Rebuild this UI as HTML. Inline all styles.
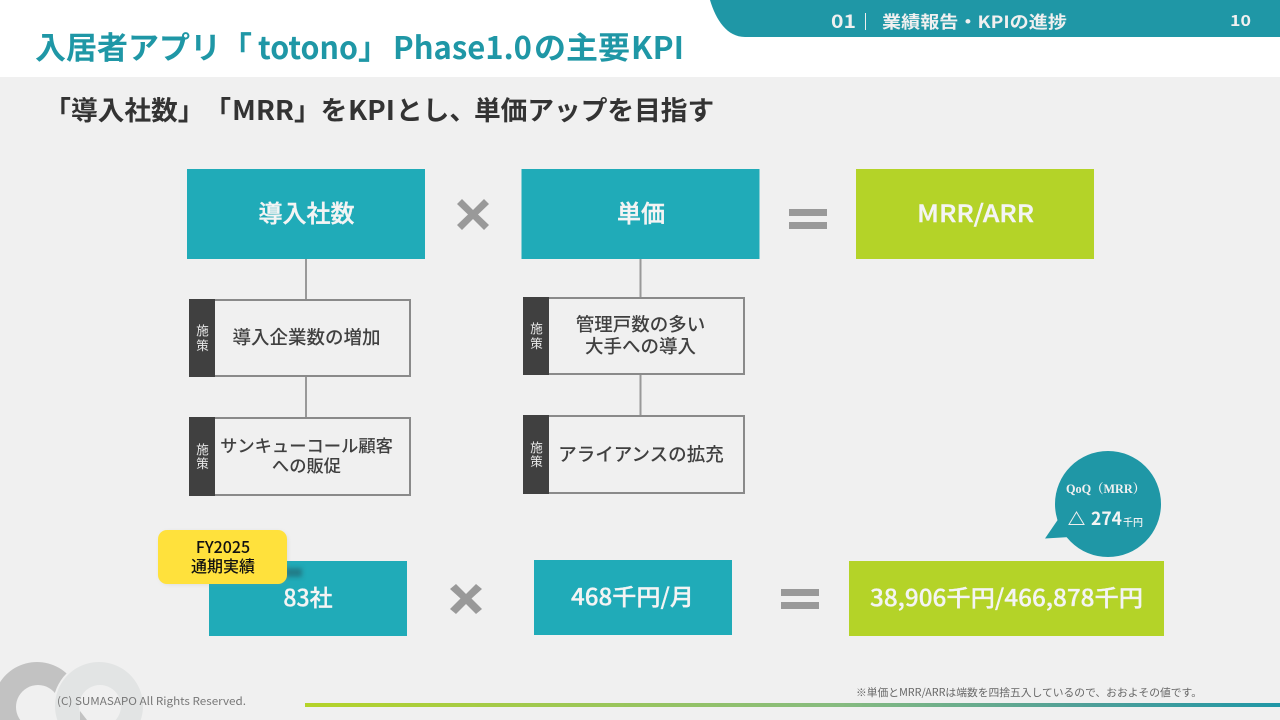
<!DOCTYPE html>
<html lang="ja"><head><meta charset="utf-8"><style>
html,body{margin:0;padding:0;background:#f0f0f0}
svg{display:block}
text{font-family:"Noto Sans CJK JP",sans-serif;text-spacing-trim:space-all}
</style></head><body>
<svg width="1280" height="720" viewBox="0 0 1280 720" xmlns="http://www.w3.org/2000/svg">
<defs>
<linearGradient id="g" x1="0" x2="1" y1="0" y2="0"><stop offset="0" stop-color="#b4d328"/><stop offset="0.55" stop-color="#86bb80"/><stop offset="0.8" stop-color="#4f9f98"/><stop offset="1" stop-color="#1f97a6"/></linearGradient>
<filter id="sh" x="-50%" y="-50%" width="200%" height="200%"><feGaussianBlur stdDeviation="2.5"/></filter>
</defs>
<rect width="1280" height="720" fill="#f0f0f0"/>
<rect width="1280" height="77" fill="#fff"/>
<path d="M710 0C716 20 727 37 745 37H1280V0Z" fill="#1f97a6"/>

<g font-size="31" font-weight="700" fill="#1f97a6">
<text x="35" y="59">入居者アプリ「</text>
<text x="258" y="59" textLength="100" lengthAdjust="spacingAndGlyphs">totono</text>
<text x="358" y="59">」</text>
<text x="393" y="59" textLength="139" lengthAdjust="spacingAndGlyphs">Phase1.0</text>
<text x="534" y="59" textLength="96" lengthAdjust="spacingAndGlyphs">の主要</text>
<text x="631" y="59" textLength="53" lengthAdjust="spacingAndGlyphs">KPI</text>
</g>

<text x="831" y="28" font-size="18" font-weight="700" fill="#f0f0f0" textLength="25" lengthAdjust="spacingAndGlyphs">01</text>
<rect x="865" y="13" width="1" height="17" fill="#eee"/>
<text x="882" y="28" font-size="17" font-weight="700" fill="#f0f0f0" textLength="185" lengthAdjust="spacingAndGlyphs">業績報告・KPIの進捗</text>
<text x="1230" y="26" font-size="15" font-weight="700" fill="#f0f0f0" textLength="21" lengthAdjust="spacingAndGlyphs">10</text>

<g font-size="26.700" font-weight="700" fill="#333">
<text x="44.300" y="120">「導入社数」「</text>
<text x="232" y="120" textLength="62" lengthAdjust="spacingAndGlyphs">MRR</text>
<text x="294" y="120">」を</text>
<text x="348" y="120" textLength="47" lengthAdjust="spacingAndGlyphs">KPI</text>
<text x="396" y="120">とし、</text>
<text x="474" y="120">単価アップを目指す</text>
</g>

<rect x="187" y="169" width="238" height="90" fill="#20abb8"/>
<rect x="521.500" y="169" width="238" height="90" fill="#20abb8"/>
<rect x="856" y="169" width="238" height="90" fill="#b4d328"/>
<g font-size="24" font-weight="500" fill="#f4f4f4" stroke="#f4f4f4" stroke-width="0.400" text-anchor="middle">
<text x="306.500" y="222">導入社数</text>
<text x="641" y="222">単価</text>
<text x="975.500" y="222" textLength="117" lengthAdjust="spacingAndGlyphs">MRR/ARR</text>
</g>

<g fill="#999">
<path d="M462 199L473 210L484 199L489 204L478 214.500L489 225L484 230L473 219L462 230L457 225L468 214.500L457 204Z"/>
<rect x="789" y="209" width="38" height="7"/><rect x="789" y="222" width="38" height="7"/>
<path d="M456 584L466 594L476 584L482 589L471.500 598.500L482 609L476 614L466 604L456 614L450 609L460.500 598.500L450 589Z"/>
<rect x="781" y="589" width="38" height="7"/><rect x="781" y="602" width="38" height="7"/>
<rect x="305" y="259" width="2" height="41"/><rect x="305" y="377" width="2" height="41"/>
<rect x="639.500" y="259" width="2" height="39"/><rect x="639.500" y="375" width="2" height="41"/>
</g>

<g fill="none" stroke="#8a8a8a" stroke-width="2">
<rect x="190" y="300" width="220" height="76"/><rect x="190" y="418" width="220" height="77"/>
<rect x="524" y="298" width="220" height="76"/><rect x="524" y="416" width="220" height="77"/>
</g>
<g fill="#404040">
<rect x="189" y="299" width="26" height="78"/><rect x="189" y="417" width="26" height="79"/>
<rect x="523" y="297" width="26" height="78"/><rect x="523" y="415" width="26" height="79"/>
</g>
<g font-size="12.500" fill="#e8e8e8" text-anchor="middle">
<text x="202.500" y="335">施</text><text x="202.500" y="350">策</text>
<text x="202.500" y="454">施</text><text x="202.500" y="468">策</text>
<text x="536.500" y="333">施</text><text x="536.500" y="348">策</text>
<text x="536.500" y="452">施</text><text x="536.500" y="466">策</text>
</g>
<g font-size="18.500" font-weight="500" fill="#404040" text-anchor="middle">
<text x="306.500" y="344">導入企業数の増加</text>
<text x="306.500" y="452" font-size="17.300">サンキューコール顧客</text>
<text x="306.500" y="472" font-size="17.300">への販促</text>
<text x="640.500" y="331">管理戸数の多い</text>
<text x="640.500" y="353">大手への導入</text>
<text x="641" y="461">アライアンスの拡充</text>
</g>

<rect x="209" y="561" width="198" height="75" fill="#20abb8"/>
<rect x="534" y="560" width="198" height="75" fill="#20abb8"/>
<rect x="849" y="561" width="315" height="75" fill="#b4d328"/>
<g font-size="23" font-weight="500" fill="#f4f4f4" stroke="#f4f4f4" stroke-width="0.300">
<text x="308" y="606" text-anchor="middle">83社</text>
<text x="571" y="605" textLength="123" lengthAdjust="spacingAndGlyphs">468千円/月</text>
<text x="870" y="606" textLength="273" lengthAdjust="spacingAndGlyphs">38,906千円/466,878千円</text>
</g>

<rect x="280" y="568" width="22" height="9" fill="#20505a" opacity="0.5" filter="url(#sh)"/>
<rect x="160" y="532" width="127" height="52" rx="9" fill="#999" opacity="0.3" filter="url(#sh)"/>
<rect x="158" y="530" width="129" height="54" rx="9" fill="#ffe13c"/>
<text x="223" y="553" font-size="16" font-weight="500" fill="#111" text-anchor="middle">FY2025</text>
<text x="223" y="572" font-size="16" font-weight="500" fill="#111" text-anchor="middle">通期実績</text>

<circle cx="1108" cy="504" r="53" fill="#1f97a6"/>
<path d="M1059 518L1045 538.500L1070 537Z" fill="#1f97a6"/>
<text x="1066" y="493" font-size="13" font-weight="700" fill="#f0f0f0" style='font-family:"Liberation Serif","Noto Serif CJK SC",serif' textLength="79" lengthAdjust="spacingAndGlyphs">QoQ（MRR）</text>
<path d="M1069 524.500L1076.500 512L1084 524.500Z" fill="none" stroke="#eee" stroke-width="1"/>
<text x="1091" y="525" font-size="18" font-weight="700" fill="#f4f4f4" textLength="31" lengthAdjust="spacingAndGlyphs">274</text>
<text x="1123" y="526" font-size="10" font-weight="500" fill="#f4f4f4">千円</text>

<path fill-rule="evenodd" d="M37 662a44 44 0 1 0 0.010 0ZM38 685a22 22 0 1 1 -0.010 0Z" fill="#c2c2c2"/>
<circle cx="99" cy="706" r="46" fill="#f0f0f0"/>
<path fill-rule="evenodd" d="M99 662a44 44 0 1 0 0.010 0ZM100 685a21 21 0 1 1 -0.010 0Z" fill="#e2e4e4"/>
<path d="M80 711L87 720H80Z" fill="#c2c2c2"/>
<text x="57" y="705" font-size="11" fill="#777" textLength="189" lengthAdjust="spacingAndGlyphs">(C)  SUMASAPO All Rights Reserved.</text>
<text x="856" y="696" font-size="10.500" fill="#666" textLength="346" lengthAdjust="spacingAndGlyphs">※単価とMRR/ARRは端数を四捨五入しているので、おおよその値です。</text>
<rect x="305" y="703" width="975" height="4" fill="url(#g)"/>
</svg>
</body></html>
